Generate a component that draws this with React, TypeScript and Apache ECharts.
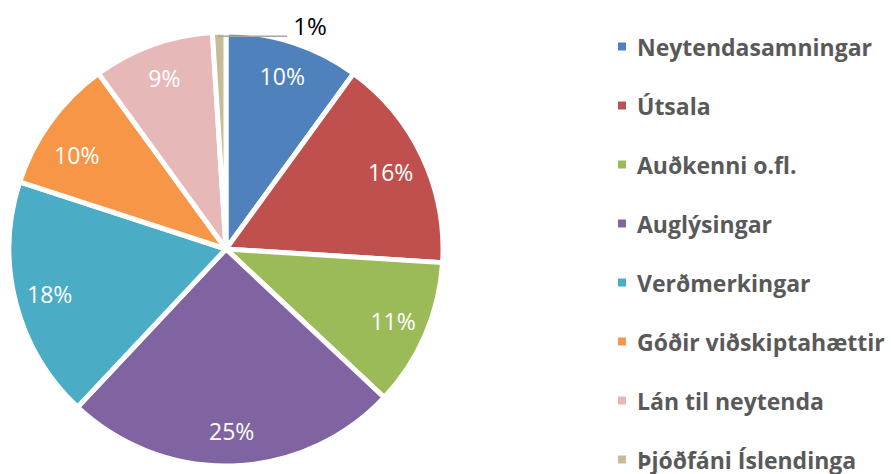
import React, { useEffect, useRef } from "react";
import * as echarts from "echarts";

const categories = [
  "Neytendasamningar",
  "Útsala",
  "Auðkenni o.fl.",
  "Auglýsingar",
  "Verðmerkingar",
  "Góðir viðskiptahættir",
  "Lán til neytenda",
  "Þjóðfáni Íslendinga",
];
const values = [10, 16, 11, 25, 18, 10, 9, 1];
const colors = ["#4F81BD", "#C0504D", "#9BBB59", "#8064A2", "#4BACC6", "#F79646", "#E6B9B8", "#C4BD97"];

const CX = 226;
const CY = 249;
const R = 217;
const R_LABEL_INNER = 141;

export default function App() {
  const ref = useRef<HTMLDivElement>(null);
  useEffect(() => {
    const chart = echarts.init(ref.current!, undefined, { renderer: "svg" });
    const smallIdx = values.length - 1;
    chart.setOption({
      animation: false,
      color: colors,
      legend: {
        orient: "vertical",
        left: 616,
        top: 35,
        height: 445,
        padding: 0,
        itemWidth: 10,
        itemHeight: 10,
        itemGap: 36,
        icon: "rect",
        data: categories,
        textStyle: {
          fontFamily: "Open Sans",
          fontWeight: "bold",
          fontSize: 23,
          lineHeight: 23,
          color: "#595959",
          padding: [0, 0, 0, 5],
        },
      },
      series: [
        {
          type: "pie",
          center: [CX, CY],
          radius: [0, R],
          startAngle: 90,
          clockwise: true,
          silent: true,
          itemStyle: { borderColor: "#ffffff", borderWidth: 5 },
          data: categories.map((name, i) => ({
            name,
            value: values[i],
            label: i === smallIdx ? { show: true } : { show: false },
            labelLine: i === smallIdx ? { show: true } : { show: false },
          })),
          label: {
            position: "outside",
            formatter: (p: any) => "{l|}{t|" + p.value + "%}",
            rich: {
              l: {
                width: 69,
                height: 1.5,
                backgroundColor: "#A6A6A6",
                verticalAlign: "bottom",
              },
              t: {
                fontFamily: "Open Sans",
                fontSize: 24,
                lineHeight: 26,
                color: "#000000",
                padding: [0, 0, 0, 6],
                verticalAlign: "bottom",
              },
            },
          },
          labelLine: {
            length: 0,
            length2: 0,
            lineStyle: { opacity: 0 },
          },
          labelLayout: (params: any) => {
            if (params.dataIndex !== smallIdx || !params.labelLinePoints) return {};
            const p0 = params.labelLinePoints[0];
            return {
              x: p0[0] - 1,
              y: p0[1] + 5,
              align: "left",
              verticalAlign: "bottom",
            };
          },
        },
        {
          type: "pie",
          center: [CX, CY],
          radius: [R_LABEL_INNER, R],
          startAngle: 90,
          clockwise: true,
          silent: true,
          itemStyle: { color: "rgba(0,0,0,0)", borderWidth: 0 },
          data: categories.map((name, i) => ({
            name: name + " ",
            value: values[i],
            label: { show: i !== smallIdx },
          })),
          label: {
            position: "inside",
            formatter: "{c}%",
            fontFamily: "Open Sans",
            fontSize: 23,
            color: "#ffffff",
          },
          labelLine: { show: false },
          labelLayout: (params: any) => (params.dataIndex === 5 ? { dx: -2, dy: 13 } : {}),
        },
      ],
    });
    return () => chart.dispose();
  }, []);
  return (
    <div
      ref={ref}
      style={{ position: "absolute", left: 0, top: 0, width: 891, height: 474, background: "#ffffff" }}
    />
  );
}
